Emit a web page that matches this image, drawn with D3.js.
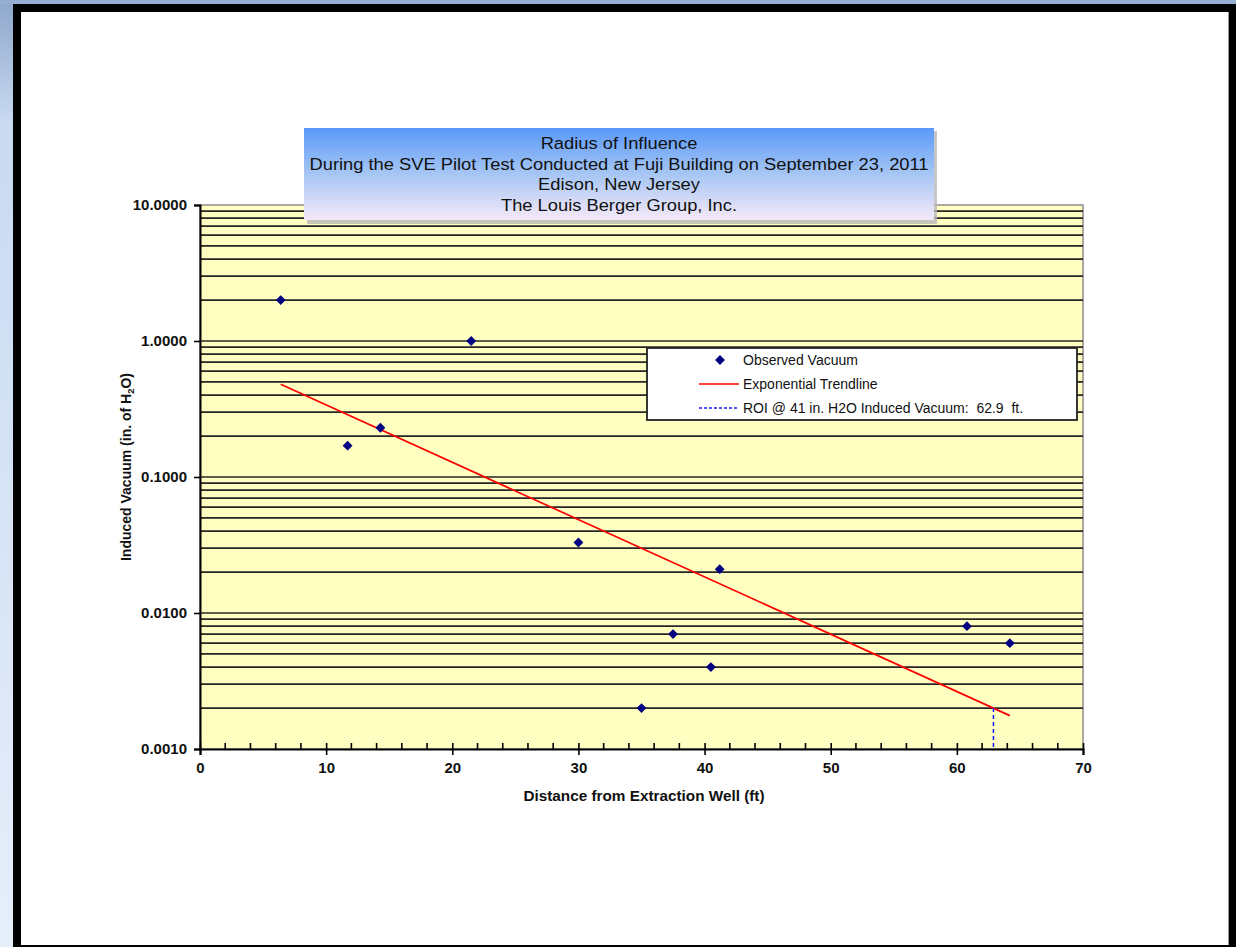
<!DOCTYPE html>
<html>
<head>
<meta charset="utf-8">
<script src="https://cdn.jsdelivr.net/npm/d3@7"></script>
<style>
  html, body { margin: 0; padding: 0; overflow: hidden; }
  svg { display: block; }
  text { font-family: "Liberation Sans", Arial, sans-serif; }
</style>
</head>
<body>
<svg id="chart" width="1236" height="947"></svg>
<script>
// ---------------- data ----------------
const titleLines = [
  "Radius of Influence",
  "During the SVE Pilot Test Conducted at Fuji Building on September 23, 2011",
  "Edison, New Jersey",
  "The Louis Berger Group, Inc."
];
const distance = [6.4, 11.7, 14.3, 21.5, 30.0, 35.0, 37.5, 40.5, 41.2, 60.8, 64.2];
const vacuum   = [2.0, 0.17, 0.23, 1.0, 0.033, 0.002, 0.007, 0.004, 0.021, 0.008, 0.006];
const trendX = [6.4, 64.2];
const trendY = [0.48, 0.00176];
const roiX = [62.9, 62.9];
const roiY = [0.002, 0.001];
const xTicks = [0, 10, 20, 30, 40, 50, 60, 70];
const xMinorTicks = [2,4,6,8,12,14,16,18,22,24,26,28,32,34,36,38,42,44,46,48,52,54,56,58,62,64,66,68];
const yTicks = [0.001, 0.01, 0.1, 1, 10];
const legendLabels = ["Observed Vacuum", "Exponential Trendline", "ROI @ 41 in. H2O Induced Vacuum:  62.9  ft."];
const xTitle = "Distance from Extraction Well (ft)";

// ---------------- layout ----------------
const svg = d3.select("#chart");
const L = 200, R = 1083, T = 205, B = 749;
const x = d3.scaleLinear().domain([0, 70]).range([L, R]);
const y = d3.scaleLog().domain([0.001, 10]).range([B, T]);

const defs = svg.append("defs");
const bg = defs.append("linearGradient").attr("id", "bgGrad").attr("x1", 0).attr("y1", 0).attr("x2", 0).attr("y2", 1);
bg.append("stop").attr("offset", "0").attr("stop-color", "#8ea7cc");
bg.append("stop").attr("offset", "0.13").attr("stop-color", "#c9daf1");
bg.append("stop").attr("offset", "1").attr("stop-color", "#e6eefa");
const tg = defs.append("linearGradient").attr("id", "titleGrad").attr("x1", 0).attr("y1", 0).attr("x2", 0).attr("y2", 1);
tg.append("stop").attr("offset", "0").attr("stop-color", "#5a99f8");
tg.append("stop").attr("offset", "0.5").attr("stop-color", "#a6c6f4");
tg.append("stop").attr("offset", "1").attr("stop-color", "#f5e9f8");

// page background + frame
svg.append("rect").attr("width", 1236).attr("height", 947).attr("fill", "url(#bgGrad)");
svg.append("rect").attr("x", 0).attr("y", 0).attr("width", 1236).attr("height", 4).attr("fill", "#96aed2");
svg.append("rect").attr("x", 13).attr("y", 4).attr("width", 1223).attr("height", 943).attr("fill", "#000");
svg.append("rect").attr("x", 21).attr("y", 12).attr("width", 1208).attr("height", 933).attr("fill", "#fff");
svg.append("line").attr("x1", 1228.5).attr("x2", 1228.5).attr("y1", 12).attr("y2", 945).attr("stroke", "#999").attr("stroke-width", 1);

// plot area
svg.append("rect").attr("x", L).attr("y", T).attr("width", R - L).attr("height", B - T)
  .attr("fill", "#ffffc2").attr("stroke", "#8c8c8c").attr("stroke-width", 1.5);

// gridlines at every log step
const gridVals = [];
for (let e = -3; e < 1; e++) {
  for (let m = 1; m <= 9; m++) gridVals.push(m * Math.pow(10, e));
}
svg.append("g").selectAll("line").data(gridVals.filter(v => v > 0.001)).join("line")
  .attr("x1", L).attr("x2", R)
  .attr("y1", d => y(d)).attr("y2", d => y(d))
  .attr("stroke", "#262626").attr("stroke-width", 1.7);

// axes
const yAxis = d3.axisLeft(y).tickValues(yTicks).tickFormat(d3.format(".4f")).tickSize(6).tickPadding(7);
const gy = svg.append("g").attr("transform", `translate(${L},0)`).call(yAxis);
gy.select(".domain").attr("stroke", "#000").attr("stroke-width", 2);
gy.selectAll(".tick line").attr("stroke", "#000").attr("stroke-width", 1.6);
gy.selectAll(".tick text").attr("font-size", "15px").attr("font-weight", "bold").attr("fill", "#111")
  .attr("font-family", "Liberation Sans, Arial, sans-serif");

const xAxis = d3.axisBottom(x).tickValues(xTicks).tickFormat(d3.format("d")).tickSize(6).tickPadding(7);
const gx = svg.append("g").attr("transform", `translate(0,${B})`).call(xAxis);
gx.select(".domain").attr("stroke", "#000").attr("stroke-width", 2);
gx.selectAll(".tick line").attr("stroke", "#000").attr("stroke-width", 1.6).attr("y1", -6);
gx.selectAll(".tick text").attr("font-size", "15px").attr("font-weight", "bold").attr("fill", "#111")
  .attr("font-family", "Liberation Sans, Arial, sans-serif");
// minor x ticks (inside)
svg.append("g").selectAll("line").data(xMinorTicks).join("line")
  .attr("x1", d => x(d)).attr("x2", d => x(d)).attr("y1", B - 6).attr("y2", B)
  .attr("stroke", "#000").attr("stroke-width", 1.6);

// trendline
svg.append("path").datum(trendX.map((d, i) => [d, trendY[i]]))
  .attr("d", d3.line().x(d => x(d[0])).y(d => y(d[1])))
  .attr("fill", "none").attr("stroke", "#ff0000").attr("stroke-width", 1.7);

// ROI dashed line
svg.append("path").datum(roiX.map((d, i) => [d, roiY[i]]))
  .attr("d", d3.line().x(d => x(d[0])).y(d => y(d[1])))
  .attr("fill", "none").attr("stroke", "#1a1aff").attr("stroke-width", 1.5).attr("stroke-dasharray", "4,3");

// points
const diamond = d3.symbol().type(d3.symbolDiamond2).size(62);
svg.append("g").selectAll("path").data(distance.map((d, i) => [d, vacuum[i]])).join("path")
  .attr("transform", d => `translate(${x(d[0])},${y(d[1])})`)
  .attr("d", diamond).attr("fill", "#000080");

// axis titles
svg.append("text").attr("x", 644).attr("y", 801).attr("text-anchor", "middle")
  .attr("font-size", "15.3px").attr("font-weight", "bold").attr("fill", "#111").text(xTitle);
const yt = svg.append("text").attr("transform", `translate(131,467) rotate(-90)`).attr("text-anchor", "middle")
  .attr("font-size", "14px").attr("font-weight", "bold").attr("fill", "#111");
yt.append("tspan").text("Induced Vacuum (in. of H");
yt.append("tspan").attr("font-size", "9.5px").attr("dy", 3).text("2");
yt.append("tspan").attr("dy", -3).text("O)");

// legend
const lg = svg.append("g");
lg.append("rect").attr("x", 647).attr("y", 348).attr("width", 430).attr("height", 72)
  .attr("fill", "#fff").attr("stroke", "#222").attr("stroke-width", 1.8);
lg.append("path").attr("transform", "translate(720,360)").attr("d", diamond).attr("fill", "#000080");
lg.append("line").attr("x1", 699).attr("x2", 739).attr("y1", 384).attr("y2", 384)
  .attr("stroke", "#ff0000").attr("stroke-width", 1.6);
lg.append("line").attr("x1", 699).attr("x2", 739).attr("y1", 408).attr("y2", 408)
  .attr("stroke", "#1a1aff").attr("stroke-width", 1.5).attr("stroke-dasharray", "3,2");
lg.selectAll("text.leg").data(legendLabels).join("text").attr("class", "leg")
  .attr("x", 743).attr("y", (d, i) => 365 + i * 24)
  .attr("font-size", "14px").attr("fill", "#111").attr("xml:space", "preserve")
  .style("white-space", "pre").text(d => d);

// title box
const tb = svg.append("g");
tb.append("rect").attr("x", 307).attr("y", 131).attr("width", 630).attr("height", 93).attr("fill", "#b8b8b8").attr("opacity", 0.8);
tb.append("rect").attr("x", 304).attr("y", 128).attr("width", 630).attr("height", 92).attr("fill", "url(#titleGrad)");
tb.selectAll("text").data(titleLines).join("text")
  .attr("transform", (d, i) => `translate(619,${149 + i * 20.5}) scale(1.11,1)`)
  .attr("text-anchor", "middle").attr("font-size", "16.5px").attr("fill", "#111").text(d => d);
</script>
</body>
</html>
